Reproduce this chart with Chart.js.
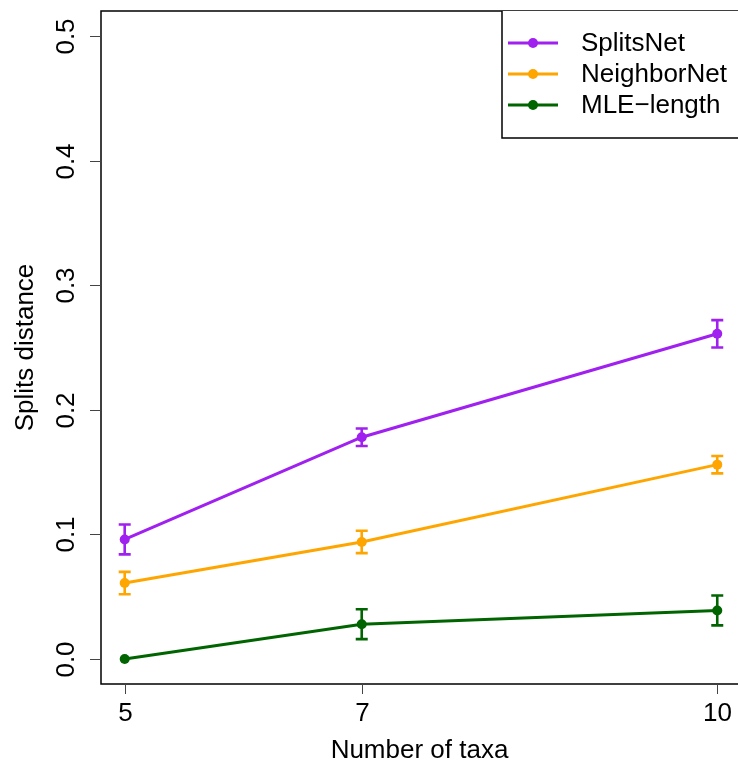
<!DOCTYPE html>
<html>
<head>
<meta charset="utf-8">
<script src="https://cdn.jsdelivr.net/npm/chart.js@4"></script>
<style>
  html, body { margin: 0; padding: 0; background: #fff; }
  canvas { display: block; }
</style>
</head>
<body>
<canvas id="splitsChart" width="738" height="767"></canvas>
<script>
// data
let taxa = [5, 7, 10];
let seriesNames = ['SplitsNet', 'NeighborNet', 'MLE\u2212length'];
let splitsNetMean = [0.096, 0.178, 0.261];
let splitsNetErr = [0.012, 0.007, 0.011];
let neighborNetMean = [0.061, 0.094, 0.156];
let neighborNetErr = [0.009, 0.009, 0.007];
let mleMean = [0.0, 0.028, 0.039];
let mleErr = [0.0, 0.012, 0.012];
let xTicks = [5, 7, 10];
let yTicks = [0.0, 0.1, 0.2, 0.3, 0.4, 0.5];
let yTickLabels = ['0.0', '0.1', '0.2', '0.3', '0.4', '0.5'];

let colors = ['#A020F0', '#FFA500', '#006400'];
let FONT = '26px "Liberation Sans", Arial, sans-serif';

function toPoints(ys) {
    return taxa.map((t, i) => ({ x: t, y: ys[i] }));
}

let means = [splitsNetMean, neighborNetMean, mleMean];
let errs = [splitsNetErr, neighborNetErr, mleErr];

let datasets = seriesNames.map((name, k) => ({
    label: name,
    data: toPoints(means[k]),
    borderColor: colors[k],
    backgroundColor: colors[k],
    borderWidth: 3,
    pointRadius: 5,
    pointBorderWidth: 0,
    tension: 0,
    errors: errs[k]
}));

// error bars with small caps, like R's arrows(angle=90)
const errorBars = {
    id: 'errorBars',
    afterDatasetsDraw(chart) {
        const ctx = chart.ctx;
        const yScale = chart.scales.y;
        chart.data.datasets.forEach((ds, k) => {
            const meta = chart.getDatasetMeta(k);
            ctx.save();
            ctx.strokeStyle = ds.borderColor;
            ctx.lineWidth = 2.6;
            meta.data.forEach((pt, i) => {
                const e = ds.errors[i];
                if (!e) return;
                const v = ds.data[i].y;
                const top = yScale.getPixelForValue(v + e);
                const bot = yScale.getPixelForValue(v - e);
                ctx.beginPath();
                ctx.moveTo(pt.x, top); ctx.lineTo(pt.x, bot);
                ctx.moveTo(pt.x - 6, top); ctx.lineTo(pt.x + 6, top);
                ctx.moveTo(pt.x - 6, bot); ctx.lineTo(pt.x + 6, bot);
                ctx.stroke();
            });
            ctx.restore();
        });
    }
};

// base-graphics style frame, axes, titles and legend
const rFrame = {
    id: 'rFrame',
    afterDraw(chart) {
        const ctx = chart.ctx;
        const a = chart.chartArea;
        const xs = chart.scales.x, ys = chart.scales.y;
        ctx.save();
        ctx.strokeStyle = '#000';
        ctx.fillStyle = '#000';
        ctx.lineWidth = 1.5;

        // box (right side falls outside the canvas)
        ctx.beginPath();
        ctx.moveTo(a.right + 5, a.top); ctx.lineTo(a.left, a.top);
        ctx.lineTo(a.left, a.bottom); ctx.lineTo(a.right + 5, a.bottom);
        ctx.stroke();

        ctx.font = FONT;
        // x axis ticks
        ctx.lineWidth = 1;
        ctx.strokeStyle = '#444';
        ctx.textAlign = 'center';
        ctx.textBaseline = 'middle';
        xTicks.forEach(t => {
            const px = Math.round(xs.getPixelForValue(t)) + 0.5;
            ctx.beginPath();
            ctx.moveTo(px, a.bottom); ctx.lineTo(px, a.bottom + 10);
            ctx.stroke();
            ctx.fillText(String(t), px, a.bottom + 30);
        });
        // y axis ticks, labels rotated
        yTicks.forEach((t, i) => {
            const py = Math.round(ys.getPixelForValue(t)) + 0.5;
            ctx.beginPath();
            ctx.moveTo(a.left, py); ctx.lineTo(a.left - 11, py);
            ctx.stroke();
            ctx.save();
            ctx.translate(67, py);
            ctx.rotate(-Math.PI / 2);
            ctx.fillText(yTickLabels[i], 0, 0);
            ctx.restore();
        });

        // axis titles
        ctx.fillText('Number of taxa', (a.left + 738) / 2, 751);
        ctx.save();
        ctx.translate(26, (a.top + a.bottom) / 2);
        ctx.rotate(-Math.PI / 2);
        ctx.fillText('Splits distance', 0, 0);
        ctx.restore();

        // legend box, top-right
        ctx.fillStyle = '#fff';
        ctx.fillRect(502, a.top, 240, 127);
        ctx.strokeStyle = '#000';
        ctx.lineWidth = 1.5;
        ctx.beginPath();
        ctx.moveTo(502, a.top); ctx.lineTo(502, 138); ctx.lineTo(745, 138);
        ctx.stroke();
        ctx.textAlign = 'left';
        chart.data.datasets.forEach((ds, k) => {
            const ly = 43 + k * 31;
            ctx.strokeStyle = ds.borderColor;
            ctx.fillStyle = ds.borderColor;
            ctx.lineWidth = 3;
            ctx.beginPath();
            ctx.moveTo(508, ly); ctx.lineTo(558, ly);
            ctx.stroke();
            ctx.beginPath();
            ctx.arc(533, ly, 5, 0, Math.PI * 2);
            ctx.fill();
            ctx.fillStyle = '#000';
            ctx.fillText(ds.label, 581, ly + 1);
        });
        ctx.restore();
    }
};

var ctx = document.getElementById('splitsChart').getContext('2d');
var splitsChart = new Chart(ctx, {
    type: 'line',
    data: { datasets: datasets },
    options: {
        responsive: false,
        animation: false,
        layout: { autoPadding: false, padding: { left: 101, top: 11, right: 0, bottom: 83 } },
        scales: {
            x: { type: 'linear', min: 4.8, max: 10.175, display: false },
            y: { min: -0.02, max: 0.52, display: false }
        },
        plugins: {
            legend: { display: false },
            tooltip: { enabled: false }
        }
    },
    plugins: [errorBars, rFrame]
});
</script>
</body>
</html>
